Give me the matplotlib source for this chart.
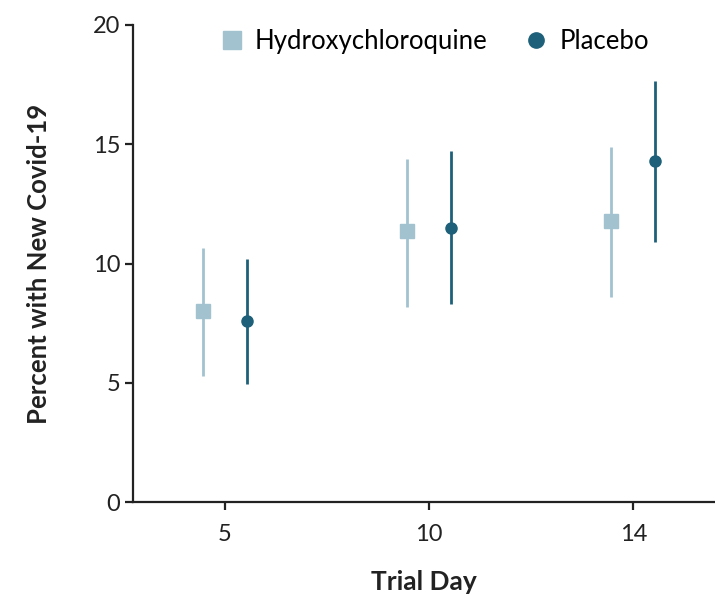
import numpy as np
import matplotlib
matplotlib.use("Agg")
import matplotlib.pyplot as plt
from matplotlib.lines import Line2D

plt.rcParams['font.family'] = ['Lato', 'DejaVu Sans']

days = ['5', '10', '14']
hcq_mid = [8.0, 11.35, 11.8]
hcq_low = [5.3, 8.2, 8.6]
hcq_high = [10.65, 14.4, 14.9]
pla_mid = [7.6, 11.5, 14.3]
pla_low = [4.95, 8.3, 10.9]
pla_high = [10.2, 14.7, 17.65]

hcq_col = '#a3c2d0'
pla_col = '#1e6079'
ink = '#222222'

fig = plt.figure(figsize=(7.15, 5.95), dpi=100)
ax = fig.add_axes([0.186, 0.156, 0.814, 0.802])

x = np.arange(len(days))
off = 0.108

def draw(xs, mid, low, high, col, marker, ms):
    mid = np.array(mid)
    err = [mid - np.array(low), np.array(high) - mid]
    ax.errorbar(xs, mid, yerr=err, fmt=marker, color=col, ms=ms,
                elinewidth=2, capsize=0)

draw(x - off, hcq_mid, hcq_low, hcq_high, hcq_col, 's', 10)
draw(x + off, pla_mid, pla_low, pla_high, pla_col, 'o', 8)

ax.set_ylim(0, 20)
ax.set_xlim(-0.45, 2.4)
ax.set_yticks([0, 5, 10, 15, 20])
ax.set_xticks(x)
ax.set_xticklabels(days)
for s in ['top', 'right']:
    ax.spines[s].set_visible(False)
for s in ['left', 'bottom']:
    ax.spines[s].set_linewidth(1.6)
    ax.spines[s].set_color(ink)
ax.tick_params(axis='both', length=6, width=1.6, labelsize=17, colors=ink,
               pad=3)
ax.tick_params(axis='x', pad=10)

ax.set_ylabel('Percent with New Covid-19', fontsize=18.5, fontweight='bold',
              color=ink, labelpad=30)
ax.set_xlabel('Trial Day', fontsize=19, fontweight='bold', color=ink,
              labelpad=18)

handles = [Line2D([], [], ls='none', marker='s', ms=13, color=hcq_col),
           Line2D([], [], ls='none', marker='o', ms=11, color=pla_col)]
ax.legend(handles, ['Hydroxychloroquine', 'Placebo'], loc='upper center',
          ncol=2, frameon=False, fontsize=18.5, handlelength=1.0,
          handletextpad=0.4, columnspacing=1.4, bbox_to_anchor=(0.517, 1.04))

fig.savefig('out.png', dpi=100)
